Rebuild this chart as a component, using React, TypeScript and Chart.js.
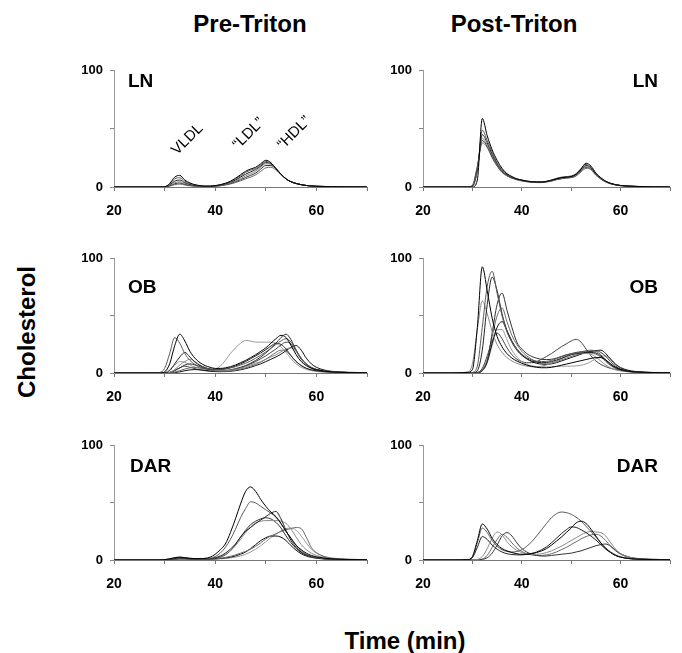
import React, { useEffect, useRef } from 'react';
import { Chart, registerables } from 'chart.js';

Chart.register(...registerables);

// Elution time grid (min) shared by every profile
const TIME = [20, 26, 29, 30, 31, 32, 33, 34, 35, 36, 37, 38, 39, 40, 41, 42, 43, 44, 45, 46, 47, 48, 49, 50, 51, 52, 53, 54, 55, 56, 57, 58, 59, 60, 63, 70];

// LN, Pre-Triton
const LN_PRE_1 = [0, 0, 0, 0.2, 3, 8.5, 10, 6, 3.5, 2, 1.2, 0.8, 0.8, 1.2, 2, 3.2, 5, 7.5, 10.5, 13.5, 15.5, 17, 20, 23, 21, 16, 11, 7, 4.5, 3, 2, 1.3, 0.9, 0.6, 0.3, 0];
const LN_PRE_2 = [0, 0, 0, 0.2, 2.5, 7, 8, 5, 3, 1.8, 1, 0.7, 0.7, 1, 1.8, 3, 4.5, 7, 9.5, 12.5, 14.5, 16, 19, 22, 20.5, 16, 11, 7, 4.5, 3, 2, 1.3, 0.9, 0.6, 0.3, 0];
const LN_PRE_3 = [0, 0, 0, 0.1, 2, 5, 6, 3.8, 2.2, 1.3, 0.8, 0.6, 0.6, 0.9, 1.6, 2.7, 4, 6, 8.5, 11, 13, 15, 18, 21, 20, 16, 11, 7, 4.5, 3, 2, 1.3, 0.9, 0.6, 0.3, 0];
const LN_PRE_4 = [0, 0, 0, 0.1, 1.5, 3.8, 4.5, 3, 1.8, 1, 0.6, 0.5, 0.5, 0.8, 1.4, 2.3, 3.5, 5.2, 7.3, 9.5, 11.5, 13.5, 17, 20, 19.5, 16, 11, 7, 4.5, 3, 2, 1.3, 0.9, 0.6, 0.3, 0];
const LN_PRE_5 = [0, 0, 0, 0.1, 1, 2.8, 3.5, 2.3, 1.4, 0.8, 0.5, 0.4, 0.4, 0.7, 1.2, 2, 3, 4.5, 6.3, 8.2, 10, 12, 15.5, 18.5, 18.5, 15.5, 11, 7, 4.5, 3, 2, 1.3, 0.9, 0.6, 0.3, 0];
const LN_PRE_6 = [0, 0, 0, 0, 0.7, 2, 2.5, 1.7, 1, 0.6, 0.4, 0.3, 0.3, 0.6, 1, 1.7, 2.6, 3.8, 5.3, 7, 8.5, 10.5, 13.5, 16.5, 17, 14.5, 10.5, 7, 4.5, 3, 2, 1.3, 0.9, 0.6, 0.3, 0];

// LN, Post-Triton
const LN_POST_1 = [0, 0, 0, 0, 6, 59, 44, 32, 23, 16, 11.5, 9, 7, 6, 5, 4.5, 4.3, 4.3, 4.8, 5.8, 7, 8, 8.5, 9, 11, 15.5, 20.5, 18, 12, 8, 5, 3.2, 2, 1.3, 0.5, 0];
const LN_POST_2 = [0, 0, 0, 0.5, 14, 49, 40, 30, 21, 15, 11, 8.5, 7, 6, 5.2, 4.6, 4.4, 4.4, 5, 6, 7.5, 8.5, 9, 9.5, 11.5, 16, 19.5, 17, 11.5, 7.5, 4.8, 3, 2, 1.3, 0.5, 0];
const LN_POST_3 = [0, 0, 0, 0.5, 15, 45, 38, 28, 20, 14, 10.5, 8.2, 6.8, 5.8, 5, 4.5, 4.3, 4.3, 4.8, 5.8, 7, 8, 8.5, 9, 11, 15, 18.5, 16.5, 11, 7.5, 4.8, 3, 2, 1.3, 0.5, 0];
const LN_POST_4 = [0, 0, 0, 0.8, 16, 42, 36, 27, 19, 13.5, 10, 8, 6.5, 5.5, 4.8, 4.3, 4.1, 4.1, 4.6, 5.5, 6.8, 7.6, 8.2, 8.5, 10.5, 14.5, 17.5, 16, 10.5, 7, 4.5, 2.8, 1.8, 1.2, 0.5, 0];
const LN_POST_5 = [0, 0, 0, 1, 17, 40, 35, 26, 18.5, 13, 9.8, 7.8, 6.4, 5.4, 4.7, 4.2, 4, 4, 4.5, 5.3, 6.5, 7.3, 8, 8.3, 10, 14, 17, 15.5, 10.5, 7, 4.5, 2.8, 1.8, 1.2, 0.5, 0];
const LN_POST_6 = [0, 0, 0, 1.5, 18, 38, 34, 25, 18, 12.5, 9.5, 7.5, 6.2, 5.2, 4.5, 4, 3.8, 3.8, 4.3, 5, 6.2, 7, 7.6, 8, 9.5, 13, 16, 15, 10, 6.8, 4.3, 2.7, 1.7, 1.1, 0.5, 0];

// OB, Pre-Triton
const OB_PRE_1 = [0, 0, 0, 1, 8, 24, 34, 28, 19, 13, 9, 6.5, 5, 4, 4, 4.5, 5.5, 7, 9, 11, 13.5, 16, 19, 22, 26, 30, 33, 31, 24, 16, 10, 6.5, 4.2, 2.8, 1, 0.2];
const OB_PRE_2 = [0, 0, 0.5, 4, 17, 31, 26, 17, 11, 7.5, 5.5, 4.2, 3.5, 3.2, 3.3, 3.8, 4.5, 5.5, 7, 8.5, 10.5, 13, 15.5, 18.5, 21.5, 25, 28, 30, 27, 20, 13, 8, 5, 3.2, 1.1, 0.2];
const OB_PRE_3 = [0, 0, 0, 0, 2, 8, 14, 18, 14, 9.5, 6.5, 4.5, 3.5, 3, 3, 3.5, 4.5, 6, 8, 10, 12.5, 15, 17.5, 20.5, 23.5, 26, 25, 21, 15, 10, 6.5, 4.2, 2.8, 2, 0.8, 0.2];
const OB_PRE_4 = [0, 0, 0, 0, 0.5, 3, 7, 10, 12, 10, 7, 5, 3.5, 2.5, 2, 2, 2.3, 3, 4, 5.5, 7, 8.5, 10, 12, 14, 16, 18.5, 21, 22, 19, 13, 8, 5, 3.2, 1.1, 0.2];
const OB_PRE_5 = [0, 0, 0, 0, 0.3, 2, 4.5, 7, 8, 7, 5.5, 4, 3, 2.5, 2.2, 2.3, 2.8, 3.8, 5, 6.5, 8.5, 11, 14, 17.5, 21.5, 26, 31, 34, 29, 20, 12.5, 7.5, 4.5, 3, 1, 0.2];
const OB_PRE_6 = [0, 0, 0, 0, 0, 0.8, 2, 3.5, 4.5, 5, 4.5, 3.5, 2.5, 1.8, 1.5, 1.5, 1.8, 2.5, 3.5, 4.5, 6, 7.5, 9.5, 12, 15, 18, 20, 19, 15, 10, 6.5, 4, 2.7, 1.8, 0.7, 0.1];
const OB_PRE_7 = [0, 0, 0, 0, 0, 0.3, 1, 2, 2.7, 3, 2.8, 2.3, 1.8, 1.4, 1.2, 1.2, 1.5, 2, 2.8, 3.8, 5, 6.5, 8, 10, 12, 14, 16.5, 19.5, 22.5, 24, 20, 13, 8, 5, 1.5, 0.3];
const OB_PRE_8 = [0, 0, 0, 0.5, 3, 7, 10, 9.5, 7, 5, 4, 3.5, 3.2, 3.5, 6, 11, 17, 22, 26, 28.5, 28, 27, 27, 27, 27, 26, 23, 18, 12.5, 8, 5, 3.2, 2, 1.3, 0.5, 0.1];
const OB_PRE_9 = [0, 0, 0, 0, 0.5, 2.5, 4.5, 6, 5, 3.8, 2.8, 2, 1.5, 1.2, 1.2, 1.5, 2.2, 3.2, 4.5, 6, 8, 10, 12.5, 15, 18, 21, 24.5, 27, 25.5, 19, 12, 7.5, 4.5, 3, 1, 0.2];

// OB, Post-Triton
const OB_POST_1 = [0, 0, 0.5, 3, 40, 93, 72, 48, 32, 23, 17, 13, 10.5, 8.5, 7, 5.8, 5, 4.6, 4.6, 5, 5.8, 6.8, 7.8, 8.8, 9.8, 10.8, 11.8, 12.8, 13.5, 13.5, 11.5, 8, 5, 3, 1, 0.2];
const OB_POST_2 = [0, 0, 0, 0.5, 6, 40, 76, 89, 70, 50, 36, 27, 21, 16.5, 13.5, 11.5, 10.3, 10, 10.2, 11, 12.5, 14, 15.5, 16.5, 17.5, 18.5, 19.5, 20, 19, 16, 11.5, 7.5, 4.5, 2.8, 0.8, 0.1];
const OB_POST_3 = [0, 0, 0, 0, 2, 20, 60, 84, 72, 52, 37, 27, 20, 15.5, 12.5, 10.5, 9.5, 9, 9.2, 10, 11.3, 12.8, 14.5, 16, 17, 17.5, 18, 18, 17.5, 15, 11, 7, 4.5, 2.8, 0.8, 0.1];
const OB_POST_4 = [0, 0, 1, 8, 38, 63, 52, 36, 25, 18, 13.5, 10.5, 8.5, 7, 6, 5.5, 5.5, 6, 7, 8.5, 10.5, 12.5, 14.5, 16, 17, 17.5, 17.5, 16.5, 14, 10.5, 7, 4.5, 2.8, 1.8, 0.6, 0.1];
const OB_POST_5 = [0, 0, 0, 0, 0, 2, 10, 35, 60, 70, 55, 40, 27, 21, 17, 14.5, 13, 12, 11.8, 12, 13, 14.5, 16, 17, 18, 18.5, 18.5, 19, 19.5, 18, 14.5, 10, 6, 3.5, 1, 0.2];
const OB_POST_6 = [0, 0, 0, 0, 0.3, 3, 12, 32, 50, 57, 45, 33, 25, 19, 15, 12, 10, 9, 8.5, 9, 10, 11.5, 13, 14.5, 16, 17, 17.5, 17.5, 16.5, 14, 10, 6.5, 4, 2.5, 0.8, 0.1];
const OB_POST_7 = [0, 0, 0, 0, 0.3, 2.5, 10, 26, 40, 45, 37, 28, 21, 16, 12.5, 10, 8.5, 7.8, 7.5, 8, 9, 10.5, 12, 13.5, 15, 16.5, 18, 19, 19.5, 20, 17, 12, 7.5, 4.5, 1.2, 0.2];
const OB_POST_8 = [0, 0, 0, 0, 0.2, 2, 9, 24, 38, 38, 29, 20, 14, 10, 7.5, 6.3, 5.6, 5.3, 5.3, 5.5, 5.8, 6, 6, 6, 6.2, 6.8, 8, 10, 12.5, 14.5, 15, 12, 8, 5, 1.5, 0.3];
const OB_POST_9 = [0, 0, 0, 0, 0.5, 4, 15, 28, 35, 30, 22, 16, 12, 10, 9, 9, 10, 12, 14.5, 17, 20, 23, 25.5, 28, 29.5, 27, 21, 15, 10.5, 7.5, 5.5, 4, 3, 2.2, 0.7, 0.1];

// DAR, Pre-Triton
const DAR_PRE_1 = [0, 0, 0, 0.3, 1, 2, 2.5, 2, 1.5, 1.2, 1.2, 1.5, 2.5, 5, 9, 14, 24, 36, 49, 60, 64, 60, 53, 47, 42, 38, 32, 25, 19, 13, 9, 6, 4, 2.8, 1, 0.2];
const DAR_PRE_2 = [0, 0, 0, 0.3, 1, 2, 2.5, 2, 1.5, 1.2, 1, 1, 1.5, 3, 6, 11, 18, 27, 37, 45, 51, 50, 47, 44, 41, 37.5, 32, 25, 18.5, 12.5, 8, 5, 3.2, 2, 0.8, 0.2];
const DAR_PRE_3 = [0, 0, 0, 0, 0.5, 1.2, 1.8, 1.5, 1.2, 1, 1, 1, 1.2, 2, 3.5, 6, 9.5, 14, 20, 25, 28.5, 32, 35, 38, 41, 42.5, 36, 26, 17, 11, 7, 4.5, 3, 2, 0.8, 0.2];
const DAR_PRE_4 = [0, 0, 0, 0, 0.5, 1.2, 1.8, 1.5, 1.2, 1, 1, 1, 1.2, 2, 3, 5, 8, 12.5, 18, 24, 29, 32.5, 34, 34.5, 34.5, 34.5, 34, 32, 27, 20, 13.5, 9, 6, 4, 1.2, 0.3];
const DAR_PRE_5 = [0, 0, 0, 0, 0.5, 1, 1.5, 1.3, 1, 0.8, 0.8, 0.8, 1, 1.5, 2.5, 4.5, 8, 13.5, 20, 26, 31, 34, 36, 37, 36, 33, 28, 21, 15, 10, 6.5, 4, 2.7, 1.8, 0.7, 0.1];
const DAR_PRE_6 = [0, 0, 0, 0, 0.3, 0.8, 1, 1, 0.8, 0.7, 0.7, 0.7, 0.8, 1, 1.5, 2.2, 3.2, 4.5, 6, 7.5, 9.5, 12, 15, 18.5, 21, 23, 25, 26.5, 27.5, 28.5, 27.5, 20, 11, 6.5, 1.5, 0.3];
const DAR_PRE_7 = [0, 0, 0, 0, 0.3, 0.8, 1, 1, 0.8, 0.7, 0.7, 0.7, 0.8, 1, 1.3, 1.8, 2.5, 3.5, 5, 7, 10, 13.5, 17, 19.5, 21, 21, 20, 17, 12.5, 8.5, 5.5, 3.5, 2.3, 1.5, 0.5, 0.1];
const DAR_PRE_8 = [0, 0, 0, 0, 0.3, 0.6, 0.8, 0.8, 0.7, 0.6, 0.6, 0.6, 0.7, 0.8, 1, 1.3, 1.8, 2.5, 3.5, 5, 7, 9.5, 12.5, 16, 19.5, 22.5, 25.5, 27.5, 28, 26, 21, 15, 9.5, 6, 1.8, 0.3];

// DAR, Post-Triton
const DAR_POST_1 = [0, 0, 0.3, 3, 17, 31.5, 27, 19, 13.5, 10, 8, 6.5, 5.5, 5, 5, 5.5, 6.5, 8, 10, 13, 16.5, 20, 24, 28, 32.5, 34, 32, 27, 21, 15, 10, 6.5, 4, 2.5, 0.8, 0.2];
const DAR_POST_2 = [0, 0, 0.3, 2.5, 15, 28, 24, 17, 12, 9, 7.5, 7, 7.5, 9, 12, 16, 21, 26.5, 32, 37, 40.5, 42, 41.5, 40, 37.5, 34, 29.5, 25, 20, 15, 10.5, 7, 4.5, 2.8, 0.8, 0.2];
const DAR_POST_3 = [0, 0, 0.2, 2, 11, 20.5, 18, 13, 9.5, 7, 5.5, 4.8, 4.5, 4.5, 5, 5.8, 7, 9, 11.5, 15, 19, 23, 26.5, 29, 28.5, 26.5, 24, 21, 17.5, 13.5, 9.5, 6.5, 4, 2.5, 0.8, 0.2];
const DAR_POST_4 = [0, 0, 0, 0, 0.5, 3, 10, 19, 24.5, 22, 16, 11.5, 8.5, 6.5, 5.5, 5, 5, 5.5, 6.5, 8, 10, 12, 14.5, 17, 19.5, 22, 24, 25, 24.5, 24, 21, 15, 9.5, 5.5, 1.5, 0.3];
const DAR_POST_5 = [0, 0, 0, 0, 0, 0.5, 2, 6, 13, 21, 24, 21, 15, 10, 7, 5, 4, 3.5, 3.5, 4, 4.5, 5, 5.5, 6, 7, 8, 9.5, 11, 12.5, 13.5, 14, 12, 8.5, 5.5, 1.5, 0.3];
const DAR_POST_6 = [0, 0, 0, 0, 0, 0.8, 4, 11, 18, 22.5, 20, 15, 10.5, 7.5, 5.5, 4.5, 4, 4, 4.5, 5.5, 7, 9, 11, 13.5, 16, 18.5, 20.5, 22, 22.5, 21, 17, 12, 8, 5, 1.3, 0.3];

const X_TICK_LABELS = [20, 40, 60];
const Y_TICK_LABELS = [0, 100];
const COLUMN_TITLES = ['Pre-Triton', 'Post-Triton'];
const Y_TITLE = 'Cholesterol';
const X_TITLE = 'Time (min)';

const FONT = '"Liberation Sans", Arial, Helvetica, sans-serif';
const LINE_COLORS = ['#000000', '#5a5a5a', '#222222', '#8a8a8a', '#333333', '#6a6a6a', '#111111', '#9a9a9a', '#444444', '#777777'];

type Note = { text: string; x: number; y: number };
type Panel = {
  label: string;
  align: 'left' | 'right';
  dx: number;
  dy: number;
  series: number[][];
  notes?: Note[];
  left: number;
  top: number;
  width: number;
  height: number;
  padRight: number;
};

const LEFT_COL = { left: 64, width: 315, padRight: 10 };
const RIGHT_COL = { left: 373, width: 309, padRight: 4 };

const PANELS: Panel[] = [
  {
    label: 'LN', align: 'left', dx: 14, dy: 11,
    series: [LN_PRE_1, LN_PRE_2, LN_PRE_3, LN_PRE_4, LN_PRE_5, LN_PRE_6],
    notes: [
      { text: 'VLDL', x: 34.5, y: 41 },
      { text: '\u201cLDL\u201d', x: 46.6, y: 46 },
      { text: '\u201cHDL\u201d', x: 55.6, y: 46.5 },
    ],
    ...LEFT_COL, top: 56, height: 171,
  },
  {
    label: 'LN', align: 'right', dx: 12, dy: 11,
    series: [LN_POST_1, LN_POST_2, LN_POST_3, LN_POST_4, LN_POST_5, LN_POST_6],
    ...RIGHT_COL, top: 56, height: 171,
  },
  {
    label: 'OB', align: 'left', dx: 14, dy: 29,
    series: [OB_PRE_1, OB_PRE_2, OB_PRE_3, OB_PRE_4, OB_PRE_5, OB_PRE_6, OB_PRE_7, OB_PRE_8, OB_PRE_9],
    ...LEFT_COL, top: 244, height: 169,
  },
  {
    label: 'OB', align: 'right', dx: 12, dy: 29,
    series: [OB_POST_1, OB_POST_2, OB_POST_3, OB_POST_4, OB_POST_5, OB_POST_6, OB_POST_7, OB_POST_8, OB_POST_9],
    ...RIGHT_COL, top: 244, height: 169,
  },
  {
    label: 'DAR', align: 'left', dx: 16, dy: 21,
    series: [DAR_PRE_1, DAR_PRE_2, DAR_PRE_3, DAR_PRE_4, DAR_PRE_5, DAR_PRE_6, DAR_PRE_7, DAR_PRE_8],
    ...LEFT_COL, top: 431, height: 169,
  },
  {
    label: 'DAR', align: 'right', dx: 12, dy: 21,
    series: [DAR_POST_1, DAR_POST_2, DAR_POST_3, DAR_POST_4, DAR_POST_5, DAR_POST_6],
    ...RIGHT_COL, top: 431, height: 169,
  },
];

const panelTextPlugin = {
  id: 'panelText',
  afterDraw(chart: any, _args: any, opts: any) {
    const { ctx, chartArea, scales } = chart;
    ctx.save();
    ctx.fillStyle = '#000';
    ctx.font = `bold 19px ${FONT}`;
    ctx.textBaseline = 'middle';
    ctx.textAlign = opts.align;
    const x = opts.align === 'left' ? chartArea.left + opts.dx : chartArea.right - opts.dx;
    ctx.fillText(opts.text, x, chartArea.top + opts.dy);
    (opts.notes || []).forEach((n: Note) => {
      ctx.save();
      ctx.translate(scales.x.getPixelForValue(n.x), scales.y.getPixelForValue(n.y));
      ctx.rotate(-Math.PI / 4);
      ctx.font = `15px ${FONT}`;
      ctx.textAlign = 'center';
      ctx.textBaseline = 'middle';
      ctx.fillText(n.text, 0, 0);
      ctx.restore();
    });
    ctx.restore();
  },
};

function PanelChart({ p }: { p: Panel }) {
  const ref = useRef<HTMLCanvasElement | null>(null);
  useEffect(() => {
    if (!ref.current) return;
    const chart = new Chart(ref.current, {
      type: 'line',
      data: {
        datasets: p.series.map((s, i) => ({
          data: s.map((v, j) => ({ x: TIME[j], y: v })),
          borderColor: LINE_COLORS[i % LINE_COLORS.length],
          borderWidth: 1,
          pointRadius: 0,
          fill: false,
          cubicInterpolationMode: 'monotone' as const,
        })),
      },
      options: {
        responsive: false,
        animation: false,
        events: [],
        layout: { padding: { left: 0, top: 10, right: p.padRight, bottom: 0 } },
        plugins: {
          legend: { display: false },
          tooltip: { enabled: false },
          // @ts-ignore
          panelText: { text: p.label, align: p.align, dx: p.dx, dy: p.dy, notes: p.notes },
        },
        scales: {
          x: {
            type: 'linear',
            min: 20,
            max: 70,
            afterFit: (s: any) => { s.height = 40; },
            ticks: {
              stepSize: 10,
              autoSkip: false,
              maxRotation: 0,
              padding: 12,
              color: '#000',
              font: { family: FONT, size: 14, weight: 'bold' },
              callback: (v: any) => (X_TICK_LABELS.includes(Number(v)) ? String(v) : ''),
            },
            grid: { display: true, drawOnChartArea: false, drawTicks: true, tickLength: 4, color: '#777' },
            border: { display: true, color: '#777', width: 1 },
          },
          y: {
            type: 'linear',
            min: 0,
            max: 100,
            afterFit: (s: any) => { s.width = 50; },
            ticks: {
              stepSize: 50,
              autoSkip: false,
              padding: 7,
              color: '#000',
              font: { family: FONT, size: 13, weight: 'bold' },
              callback: (v: any) => (Y_TICK_LABELS.includes(Number(v)) ? String(v) : ''),
            },
            grid: { display: true, drawOnChartArea: false, drawTicks: true, tickLength: 4, color: '#888' },
            border: { display: true, color: '#999', width: 1 },
          },
        },
      },
      plugins: [panelTextPlugin],
    } as any);
    return () => chart.destroy();
  }, [p]);
  return (
    <canvas
      ref={ref}
      width={p.width}
      height={p.height}
      style={{ position: 'absolute', left: p.left, top: p.top, width: p.width, height: p.height }}
    />
  );
}

const titleStyle: React.CSSProperties = {
  position: 'absolute',
  fontFamily: FONT,
  fontWeight: 'bold',
  fontSize: 24,
  lineHeight: '1',
  whiteSpace: 'nowrap',
  color: '#000',
};

export default function App() {
  return (
    <div style={{ position: 'absolute', left: 0, top: 0, width: 682, height: 653, background: '#fff', overflow: 'hidden' }}>
      <div style={{ ...titleStyle, left: 250, top: 24, transform: 'translate(-50%, -50%)' }}>{COLUMN_TITLES[0]}</div>
      <div style={{ ...titleStyle, left: 514, top: 24, transform: 'translate(-50%, -50%)' }}>{COLUMN_TITLES[1]}</div>
      <div style={{ ...titleStyle, left: 27, top: 332, transform: 'translate(-50%, -50%) rotate(-90deg)' }}>{Y_TITLE}</div>
      <div style={{ ...titleStyle, left: 405, top: 641, transform: 'translate(-50%, -50%)' }}>{X_TITLE}</div>
      {PANELS.map((p, i) => (
        <PanelChart key={i} p={p} />
      ))}
    </div>
  );
}
